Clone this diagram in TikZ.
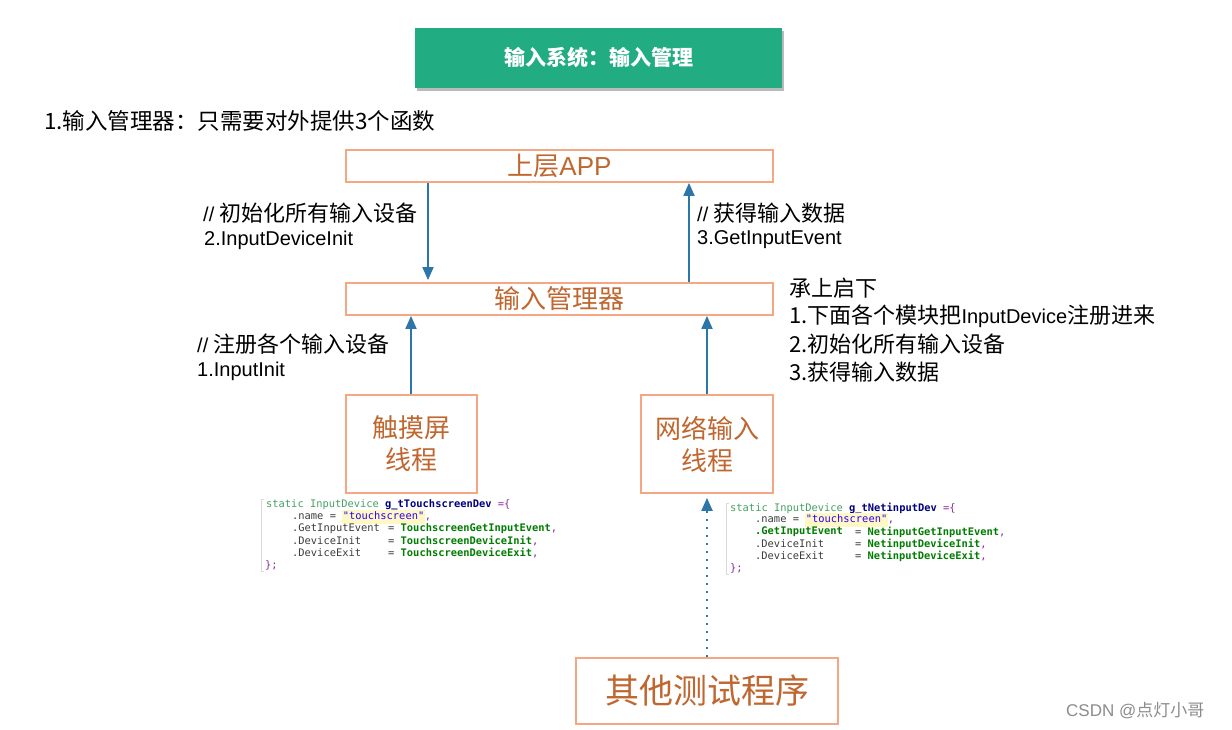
\documentclass[tikz,border=0pt]{standalone}
\usepackage{fontspec}
\setmainfont{Liberation Sans}
\setmonofont{DejaVu Sans Mono}
\newfontfamily\cjk{Noto Sans CJK SC}
\usetikzlibrary{arrows.meta,shadows}
\definecolor{titlegreen}{RGB}{34,172,130}
\definecolor{boxline}{RGB}{245,166,131}
\definecolor{boxtext}{RGB}{192,102,47}
\definecolor{arrowblue}{RGB}{46,117,168}
\definecolor{kwgreen}{RGB}{70,160,100}
\definecolor{valgreen}{RGB}{0,125,0}
\definecolor{idblue}{RGB}{0,0,130}
\definecolor{strblue}{RGB}{42,0,255}
\definecolor{hlyellow}{RGB}{255,248,196}
\definecolor{purp}{RGB}{140,40,160}
\definecolor{memgray}{RGB}{60,60,60}
\tikzset{
  box/.style={draw=boxline, line width=1.8pt, text=boxtext, inner sep=0pt, align=center},
  arr/.style={draw=arrowblue, line width=1.8pt, -{Triangle[length=13pt,width=11pt]}},
  dotarr/.style={draw=arrowblue, line width=2.2pt, dash pattern=on 2.4pt off 5.6pt, -{Triangle[length=13pt,width=11pt]}},
  lbl/.style={anchor=west, inner sep=0pt, font=\fontsize{20}{24}\selectfont},
  code/.style={anchor=west, inner sep=0pt, font=\ttfamily\fontsize{10.4}{12}\selectfont, text=memgray},
}
\newcommand{\cj}[1]{{\cjk\fontsize{22}{24}\selectfont #1}}
\newcommand{\hlstr}[1]{{\setlength{\fboxsep}{0.6pt}\colorbox{hlyellow}{\strut\textcolor{strblue}{#1}}}}
\begin{document}
\begin{tikzpicture}[x=1pt,y=-1pt]
\useasboundingbox (0,0) rectangle (1232,730);
\fill[white] (0,0) rectangle (1232,730);

% title
\node[fill=titlegreen, minimum width=367pt, minimum height=60pt, inner sep=0pt,
      drop shadow={shadow xshift=1.5pt, shadow yshift=-3pt, fill=black!45, opacity=0.6},
      text=white, font=\cjk\bfseries\fontsize{21}{24}\selectfont] (title) at (598.5,58) {输入系统：输入管理};

\node[anchor=west, inner sep=0pt, font=\cjk\fontsize{22.5}{26}\selectfont] (head) at (44,121) {1.输入管理器：只需要对外提供3个函数};

% boxes
\node[box, minimum width=427pt, minimum height=32pt, font=\fontsize{26}{30}\selectfont] (app) at (559.5,166) {{\cjk 上层}APP};
\node[box, minimum width=427pt, minimum height=32pt, font=\cjk\fontsize{26}{30}\selectfont] (mgr) at (559.5,299) {输入管理器};
\node[box, minimum width=131pt, minimum height=98pt, font=\cjk\fontsize{26}{32}\selectfont] (touch) at (411.5,444) {触摸屏\\线程};
\node[box, minimum width=132pt, minimum height=98pt, font=\cjk\fontsize{26}{32}\selectfont] (net) at (707,444) {网络输入\\线程};
\node[box, minimum width=262pt, minimum height=66pt, font=\cjk\fontsize{34}{40}\selectfont] (other) at (707,691) {其他测试程序};

% connector x positions
\coordinate (xa) at (428,0);
\coordinate (xb) at (689,0);
\coordinate (xc) at (411,0);
\draw[arr] (app.south -| xa) -- ([yshift=2pt]mgr.north -| xa);
\draw[arr] (mgr.north -| xb) -- (app.south -| xb);
\draw[arr] (touch.north -| xc) -- (mgr.south -| xc);
\draw[arr] (net.north) -- (mgr.south -| net.north);
\draw[dotarr] (other.north) -- ([yshift=-4pt]net.south);

% labels
\node[lbl] (l1a) at (203,213) {// \cj{初始化所有输入设备}};
\node[lbl] (l1b) at (204,240) {2.InputDeviceInit};
\node[lbl] (l2a) at (697,213) {// \cj{获得输入数据}};
\node[lbl] (l2b) at (697,240) {3.GetInputEvent};
\node[lbl] (l3a) at (197,344) {// \cj{注册各个输入设备}};
\node[lbl] (l3b) at (197,371) {1.InputInit};

\node[lbl] (r0) at (789,288) {\cj{承上启下}};
\node[lbl] (r1) at (789,316) {\cj{1.下面各个模块把}InputDevice\cj{注册进来}};
\node[lbl] (r2) at (789,344) {\cj{2.初始化所有输入设备}};
\node[lbl] (r3) at (789,372) {\cj{3.获得输入数据}};

% code block 1
\draw[black!15, line width=0.6pt] (264,499) -- (261,499) -- (261,571) -- (264,571);
\node[code] (c1a) at (266,505) {\textcolor{kwgreen}{static InputDevice }\textbf{\textcolor{idblue}{g\_tTouchscreenDev}} \textcolor{purp}{=\{}};
\node[code] (c1b) at (292,517) {.name = \hlstr{"touchscreen"}\textcolor{purp}{,}};
\node[code] (c1c) at (292,529) {.GetInputEvent};
\node[code] (c1d) at (292,541) {.DeviceInit};
\node[code] (c1e) at (292,553) {.DeviceExit};
\node[code] (c1f) at (388,529) {= \textbf{\textcolor{valgreen}{TouchscreenGetInputEvent}}\textcolor{purp}{,}};
\node[code] (c1g) at (388,541) {= \textbf{\textcolor{valgreen}{TouchscreenDeviceInit}}\textcolor{purp}{,}};
\node[code] (c1h) at (388,553) {= \textbf{\textcolor{valgreen}{TouchscreenDeviceExit}}\textcolor{purp}{,}};
\node[code] (c1i) at (265,565) {\textcolor{purp}{\};}};

% code block 2
\draw[black!15, line width=0.6pt] (729,503) -- (726,503) -- (726,574) -- (729,574);
\node[code] (c2a) at (730,508) {\textcolor{kwgreen}{static InputDevice }\textbf{\textcolor{idblue}{g\_tNetinputDev}} \textcolor{purp}{=\{}};
\node[code] (c2b) at (755,520) {.name = \hlstr{"touchscreen"}\textcolor{purp}{,}};
\node[code] (c2c) at (755,532) {\textbf{\textcolor{valgreen}{.GetInputEvent}}};
\node[code] (c2d) at (755,544) {.DeviceInit};
\node[code] (c2e) at (755,556) {.DeviceExit};
\node[code] (c2f) at (855,532) {= \textbf{\textcolor{valgreen}{NetinputGetInputEvent}}\textcolor{purp}{,}};
\node[code] (c2g) at (855,544) {= \textbf{\textcolor{valgreen}{NetinputDeviceInit}}\textcolor{purp}{,}};
\node[code] (c2h) at (855,556) {= \textbf{\textcolor{valgreen}{NetinputDeviceExit}}\textcolor{purp}{,}};
\node[code] (c2i) at (730,568) {\textcolor{purp}{\};}};

% watermark
\node[anchor=west, inner sep=0pt, text=black!45, font=\fontsize{17}{20}\selectfont] (wm) at (1066,711) {CSDN @{\cjk 点灯小哥}};
\end{tikzpicture}
\end{document}
